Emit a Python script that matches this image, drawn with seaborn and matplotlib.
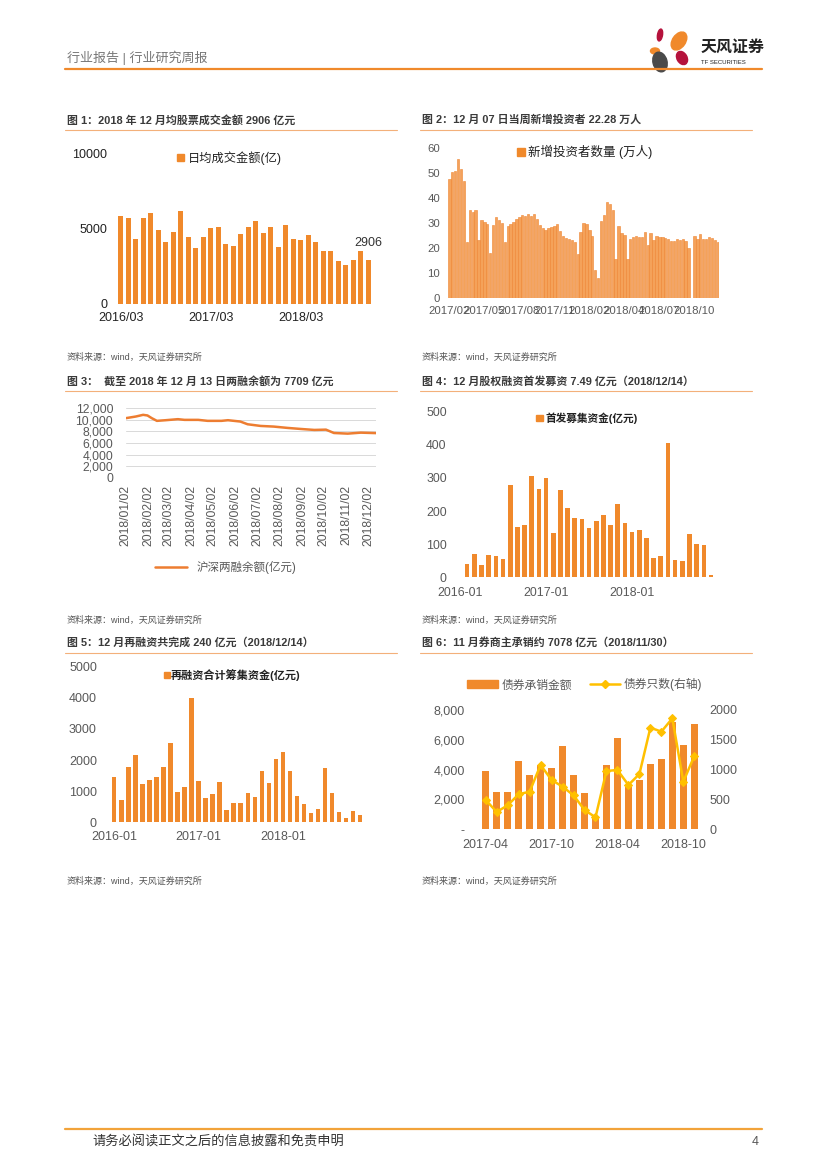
"""
Weekly market report page - six panels recreated with seaborn.
"""
import numpy as np
import pandas as pd
import matplotlib
matplotlib.use("Agg")
import matplotlib.pyplot as plt
import matplotlib.dates as mdates
from matplotlib.patches import Ellipse, Patch
from matplotlib.lines import Line2D
import seaborn as sns

# ── Style ─────────────────────────────────────────────────
sns.set_theme(style="white")
plt.rcParams["font.family"] = ["Liberation Sans", "Noto Sans CJK SC", "DejaVu Sans"]
plt.rcParams["axes.unicode_minus"] = False

ORANGE = "#F0892B"
GOLD = "#FFC000"
GREY = "#595959"

# ── Data ──────────────────────────────────────────────────
# Fig 1: monthly average stock turnover (100m CNY), 2016/03 - 2018/12
turnover = [5800, 5690, 4310, 5710, 6040, 4870, 4110, 4800, 6180, 4420,
            3710, 4470, 5020, 5110, 4000, 3820, 4640, 5110, 5490, 4670,
            5090, 3800, 5240, 4290, 4240, 4580, 4090, 3490, 3530, 2870,
            2600, 2910, 3530, 2906]
turnover_ticks = ["2016/03", "2017/03", "2018/03"]

# Fig 2: weekly new investors (10k), 2017/02 - 2018/12/07
investors = [47.7, 50.3, 51.0, 55.6, 51.7, 46.8, 22.5, 35.1, 34.4, 35.1,
             23.4, 31.1, 30.5, 29.5, 17.9, 29.3, 32.5, 31.1, 30.1, 22.5,
             29.0, 29.5, 30.5, 31.8, 32.5, 33.1, 32.7, 33.8, 32.7, 33.5,
             31.7, 29.1, 28.1, 27.2, 27.9, 28.5, 29.0, 29.5, 26.9, 25.0,
             24.1, 23.7, 23.2, 22.5, 17.6, 26.5, 30.1, 29.8, 27.4, 24.8,
             11.3, 8.2, 30.7, 33.1, 38.3, 37.7, 35.1, 15.6, 28.7, 26.2,
             25.4, 15.6, 23.8, 24.5, 25.0, 24.5, 24.5, 26.4, 21.1, 26.1,
             23.2, 25.0, 24.6, 24.5, 24.0, 23.8, 22.9, 22.9, 23.7, 23.4,
             23.8, 23.0, 19.9, np.nan, 25.0, 23.8, 25.7, 23.7, 23.8, 24.4,
             24.0, 23.4, 22.28]
investor_ticks = ["2017/02", "2017/05", "2017/08", "2017/11",
                  "2018/02", "2018/04", "2018/07", "2018/10"]

# Fig 3: margin balance (100m CNY), 2018
margin_dates = ["2018-01-02", "2018-01-16", "2018-01-26", "2018-02-01", "2018-02-07",
                "2018-02-14", "2018-02-26", "2018-03-15", "2018-03-24", "2018-04-12",
                "2018-04-25", "2018-05-14", "2018-05-23", "2018-06-09", "2018-06-19",
                "2018-07-07", "2018-07-25", "2018-08-13", "2018-08-31", "2018-09-19",
                "2018-10-05", "2018-10-16", "2018-11-04", "2018-11-22", "2018-12-13"]
margin_vals = [10290, 10580, 10870, 10760, 10290, 9830, 9940, 10120, 10000, 10000,
               9830, 9830, 9940, 9710, 9240, 8950, 8840, 8610, 8430, 8260,
               8310, 7730, 7620, 7790, 7709]

# Fig 4: IPO proceeds (100m CNY), 2016-01 - 2018-12
ipo = [2, 40, 70, 37, 68, 63, 55, 280, 152, 157, 305, 267,
       300, 135, 263, 208, 178, 175, 150, 170, 187, 158, 222, 164,
       137, 143, 118, 57, 63, 405, 52, 48, 132, 100, 97, 7.49]

# Fig 5: refinancing proceeds (100m CNY), 2016-01 - 2018-12
refi = [1470, 720, 1770, 2160, 1240, 1370, 1445, 1790, 2560, 975, 1135, 3990,
        1320, 770, 900, 1305, 405, 610, 620, 930, 800, 1650, 1265, 2035,
        2260, 1650, 835, 578, 300, 430, 1735, 940, 330, 150, 365, 240]
month_ticks = ["2016-01", "2017-01", "2018-01"]

# Fig 6: bond underwriting, 2017-04 - 2018-11
bond_amt = [3930, 2500, 2500, 4580, 3640, 4300, 4130, 5590, 3640, 2440,
            900, 4290, 6150, 2860, 3300, 4380, 4690, 7220, 5650, 7078]
bond_cnt = [492, 291, 402, 587, 631, 1078, 827, 715, 570, 324,
            201, 978, 994, 743, 927, 1704, 1637, 1860, 799, 1229]
bond_ticks = ["2017-04", "2017-10", "2018-04", "2018-10"]

titles = ["图 1：2018 年 12 月均股票成交金额 2906 亿元",
          "图 2：12 月 07 日当周新增投资者 22.28 万人",
          "图 3：  截至 2018 年 12 月 13 日两融余额为 7709 亿元",
          "图 4：12 月股权融资首发募资 7.49 亿元（2018/12/14）",
          "图 5：12 月再融资共完成 240 亿元（2018/12/14）",
          "图 6：11 月券商主承销约 7078 亿元（2018/11/30）"]
source = "资料来源：wind，天风证券研究所"

# ── Page ──────────────────────────────────────────────────
W, H = 827, 1169
fig = plt.figure(figsize=(W / 100, H / 100), dpi=100)
bg = fig.add_axes([0, 0, 1, 1])
bg.set_xlim(0, W)
bg.set_ylim(H, 0)
bg.axis("off")


def box(x0, y0, x1, y1):
    return fig.add_axes([x0 / W, 1 - y1 / H, (x1 - x0) / W, (y1 - y0) / H])


def clean(ax, color=GREY, size=8.8, xpad=6, ypad=7):
    for s in ax.spines.values():
        s.set_visible(False)
    ax.set_xlabel("")
    ax.set_ylabel("")
    ax.tick_params(length=0, labelsize=size, colors=color)
    ax.tick_params(axis="x", pad=xpad)
    ax.tick_params(axis="y", pad=ypad)


# header
bg.text(67, 58, "行业报告 | 行业研究周报", fontsize=9.4, color="#777777", va="center")
bg.plot([65, 762], [69, 69], color=ORANGE, lw=1.6)
for (cx, cy, w, h, a, c) in [(660, 35, 5, 12, 10, "#B5123C"), (679, 41, 13, 20, 35, ORANGE),
                             (655, 51, 9, 6, 0, ORANGE), (682, 58, 10, 14, -30, "#B5123C"),
                             (660, 62, 14, 20, -15, "#4A4A4A")]:
    bg.add_patch(Ellipse((cx, cy), w, h, angle=a, color=c))
bg.text(701, 47, "天风证券", fontsize=11.5, fontweight="bold", color="#222222", va="center")
bg.text(701, 62, "TF SECURITIES", fontsize=4.3, color="#222222", va="center")

# footer
bg.plot([65, 762], [1129, 1129], color="#F2A33A", lw=1.6)
bg.text(92, 1142, "请务必阅读正文之后的信息披露和免责申明", fontsize=9.5, color="#333333", va="center")
bg.text(752, 1142, "4", fontsize=9, color="#555555", va="center")

# titles, title rules, sources
for i, t in enumerate(titles):
    col, row = i % 2, i // 2
    x0 = 67 if col == 0 else 422
    ty = [120, 381, 642][row]
    ly = [130, 391, 653][row]
    sy = [357, 620, 881][row]
    bg.text(x0, ty, t, fontsize=7.9, fontweight="bold", color="#3A3A3A", va="center")
    bg.plot([x0 - 2, x0 + 330], [ly, ly], color="#F3B07A", lw=0.8)
    bg.text(x0, sy, source, fontsize=6.5, color="#555555", va="center")

# ── Fig 1 ─────────────────────────────────────────────────
ax1 = box(117, 153, 372, 304)
sns.barplot(x=list(range(len(turnover))), y=turnover, color=ORANGE, width=0.67,
            saturation=1, linewidth=0, ax=ax1)
ax1.set_ylim(0, 10000)
ax1.set_yticks([0, 5000, 10000])
ax1.set_yticklabels(["0", "5000", "10000"])
ax1.set_xticks([0, 12, 24])
ax1.set_xticklabels(turnover_ticks)
clean(ax1, color="#222222", size=9, xpad=6, ypad=7)
ax1.text(len(turnover) - 1, 3650, "2906", fontsize=9, color="#333333", ha="center", va="bottom")
ax1.legend(handles=[Patch(color=ORANGE, label="日均成交金额(亿)")], loc="center",
           bbox_to_anchor=(0.44, 0.967), frameon=False, fontsize=8.8, handlelength=0.6,
           handleheight=0.6, handletextpad=0.3, labelcolor="#222222")

# ── Fig 2 ─────────────────────────────────────────────────
ax2 = box(447.9, 148, 719.2, 298)
sns.barplot(x=list(range(len(investors))), y=investors, color="#F4A25A", width=0.82,
            saturation=1, edgecolor="#EE8430", linewidth=0.4, ax=ax2)
ax2.set_ylim(0, 60)
ax2.set_yticks(range(0, 61, 10))
ax2.set_xticks(range(0, 85, 12))
ax2.set_xticklabels(investor_ticks)
clean(ax2, size=8.2, xpad=6, ypad=5.5)
ax2.legend(handles=[Patch(color=ORANGE, label="新增投资者数量 (万人)")], loc="center",
           bbox_to_anchor=(0.505, 0.973), frameon=False, fontsize=9, handlelength=0.6,
           handleheight=0.6, handletextpad=0.3, labelcolor="#222222")

# ── Fig 3 ─────────────────────────────────────────────────
ax3 = box(125.7, 408.3, 376, 477.7)
sns.lineplot(x=pd.to_datetime(margin_dates), y=margin_vals, color="#ED7D31", lw=1.8, ax=ax3)
ax3.set_ylim(0, 12000)
ax3.set_yticks(range(0, 12001, 2000))
ax3.set_yticklabels([f"{v:,}" for v in range(0, 12001, 2000)])
ax3.set_xlim(pd.Timestamp("2018-01-02"), pd.Timestamp("2018-12-13"))
ax3.set_xticks(pd.date_range("2018-01-01", periods=12, freq="MS") + pd.Timedelta(days=1))
ax3.xaxis.set_major_formatter(mdates.DateFormatter("%Y/%m/%d"))
ax3.grid(axis="y", color="#D9D9D9", lw=0.7)
clean(ax3, size=8.7, xpad=5, ypad=9)
ax3.tick_params(axis="x", rotation=90)
ax3.legend(handles=[Line2D([], [], color="#ED7D31", lw=1.8, label="沪深两融余额(亿元)")],
           loc="center", bbox_to_anchor=(0.40, -1.29), frameon=False, fontsize=8.3,
           handlelength=2.8, labelcolor=GREY)

# ── Fig 4 ─────────────────────────────────────────────────
ax4 = box(456.4, 411.7, 714.6, 577.3)
sns.barplot(x=list(range(len(ipo))), y=ipo, color=ORANGE, width=0.65, saturation=1,
            linewidth=0, ax=ax4)
ax4.set_ylim(0, 500)
ax4.set_yticks(range(0, 501, 100))
ax4.set_xticks([0, 12, 24])
ax4.set_xticklabels(month_ticks)
clean(ax4, size=8.9, xpad=7, ypad=7)
ax4.legend(handles=[Patch(color=ORANGE, label="首发募集资金(亿元)")], loc="center",
           bbox_to_anchor=(0.506, 0.962), frameon=False,
           prop={"weight": "bold", "size": 7.7}, handlelength=0.6, handleheight=0.6,
           handletextpad=0.3, labelcolor="#222222")

# ── Fig 5 ─────────────────────────────────────────────────
ax5 = box(110.8, 666.7, 363.5, 822.3)
sns.barplot(x=list(range(len(refi))), y=refi, color=ORANGE, width=0.62, saturation=1,
            linewidth=0, ax=ax5)
ax5.set_ylim(0, 5000)
ax5.set_yticks(range(0, 5001, 1000))
ax5.set_xticks([0, 12, 24])
ax5.set_xticklabels(month_ticks)
clean(ax5, size=9, xpad=6.5, ypad=10)
ax5.legend(handles=[Patch(color=ORANGE, label="再融资合计筹集资金(亿元)")], loc="center",
           bbox_to_anchor=(0.48, 0.947), frameon=False,
           prop={"weight": "bold", "size": 8}, handlelength=0.5, handleheight=0.5,
           handletextpad=0.1, labelcolor="#222222")

# ── Fig 6 ─────────────────────────────────────────────────
ax6 = box(480.2, 710, 699.8, 829.3)
sns.barplot(x=list(range(len(bond_amt))), y=bond_amt, color=ORANGE, width=0.65,
            saturation=1, linewidth=0, ax=ax6)
ax6.set_ylim(0, 8000)
ax6.set_yticks(range(0, 8001, 2000))
ax6.set_yticklabels(["-"] + [f"{v:,}" for v in range(2000, 8001, 2000)])
ax6.set_xticks([0, 6, 12, 18])
ax6.set_xticklabels(bond_ticks)
clean(ax6, size=9, xpad=7, ypad=11)
ax6b = ax6.twinx()
sns.lineplot(x=list(range(len(bond_cnt))), y=bond_cnt, color=GOLD, lw=1.8, marker="D",
             markersize=4.5, markeredgecolor=GOLD, ax=ax6b)
ax6b.set_ylim(0, 2000)
ax6b.set_yticks(range(0, 2001, 500))
ax6b.set_xlim(-0.5, len(bond_amt) - 0.5)
clean(ax6b, size=9, xpad=7, ypad=7)
ax6b.legend(handles=[Patch(color=ORANGE, label="债券承销金额"),
                     Line2D([], [], color=GOLD, lw=1.8, marker="D", markersize=4.5,
                            label="债券只数(右轴)")],
            loc="center", bbox_to_anchor=(0.477, 1.21), ncol=2, frameon=False,
            fontsize=8.5, handlelength=2.6, handleheight=0.7, columnspacing=1.5,
            handletextpad=0.3, labelcolor=GREY)

fig.savefig("out.png", dpi=100)
plt.close(fig)
